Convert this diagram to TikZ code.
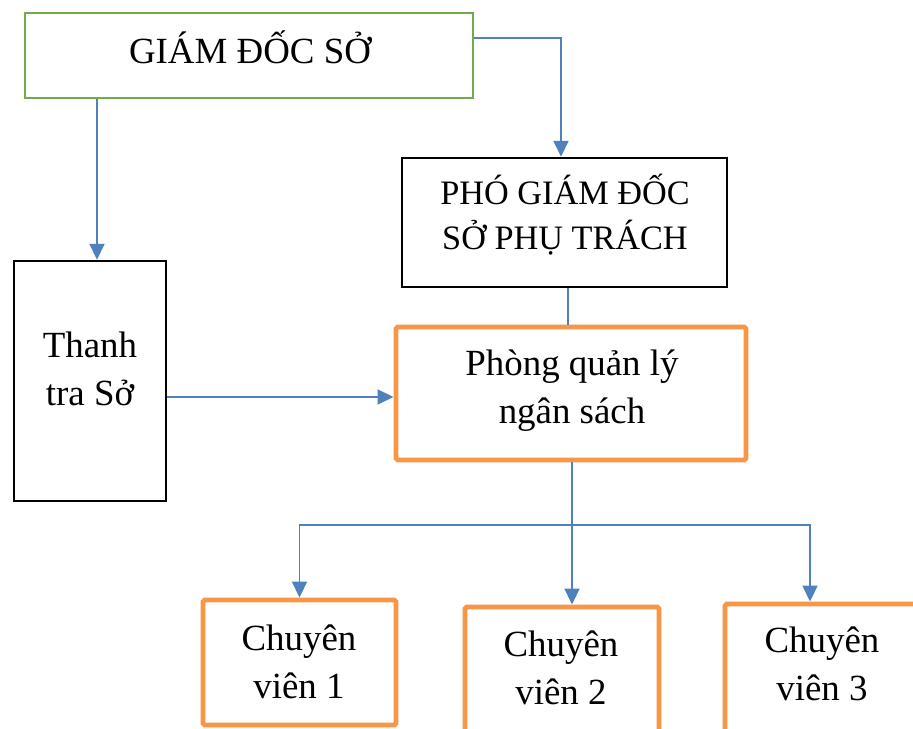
\documentclass[tikz,border=0pt]{standalone}
\usepackage{fontspec}
\setmainfont{Liberation Serif}
\usetikzlibrary{arrows.meta}
\usetikzlibrary{calc}
\usetikzlibrary{positioning}
\definecolor{linkblue}{RGB}{79,129,189}
\definecolor{boxgreen}{RGB}{112,173,71}
\definecolor{boxorange}{RGB}{247,150,70}

\begin{document}
\begin{tikzpicture}
	[
	x=0.02cm, y=-0.02cm,
	> = {Triangle[length=0.32cm,width=0.3cm]},
	box/.style = {draw, rectangle, inner sep=0pt},
	greenbox/.style = {box, draw=boxgreen, line width=1.6pt},
	blackbox/.style = {box, draw=black, line width=1.4pt},
	orangebox/.style = {box, draw=boxorange, line width=2.8pt, rounded corners=1pt},
	label/.style = {align=center, font=\fontsize{21}{27.3}\selectfont},
	link/.style = {draw=linkblue, line width=1.1pt},
	arrow/.style = {link, ->, linkblue}
	]

	\useasboundingbox (0,0) rectangle (913,729);

	% boxes
	\node[greenbox, minimum width=448*0.02cm, minimum height=85*0.02cm] (gd) at (249,55.5) {};
	\node[blackbox, minimum width=325*0.02cm, minimum height=129*0.02cm] (pgd) at (564.5,222.5) {};
	\node[blackbox, minimum width=152*0.02cm, minimum height=240*0.02cm] (ttr) at (90,381) {};
	\node[orangebox, minimum width=350*0.02cm, minimum height=133*0.02cm] (pqns) at (571,393.5) {};
	\node[orangebox, minimum width=193*0.02cm, minimum height=125*0.02cm] (cv1) at (299.5,662.5) {};
	\node[orangebox, minimum width=194*0.02cm, minimum height=128*0.02cm] (cv2) at (562,671) {};
	\node[orangebox, minimum width=194*0.02cm, minimum height=128*0.02cm] (cv3) at (822,668) {};

	% texts
	\node[label] (gd-t) at (250,47) {GIÁM ĐỐC SỞ};
	\node[label, font=\fontsize{19.5}{25.5}\selectfont] (pgd-t) at (565,215) {PHÓ GIÁM ĐỐC\\SỞ PHỤ TRÁCH};
	\node[label] (ttr-t) at (90,369) {Thanh\\tra Sở};
	\node[label] (pqns-t) at (572,391) {Phòng quản lý\\ngân sách};
	\node[label] (cv1-t) at (299,662) {Chuyên\\viên 1};
	\node[label] (cv2-t) at (561,668) {Chuyên\\viên 2};
	\node[label] (cv3-t) at (822,664) {Chuyên\\viên 3};

	% connectors
	\draw[arrow] ([yshift=0.35cm]gd.east) -| ([xshift=-0.07cm]pgd.north);
	\draw[arrow] ([xshift=0.14cm]ttr.north |- gd.south) -- ([xshift=0.14cm]ttr.north);
	\draw[link] ([xshift=0.07cm]pgd.south) -- ([xshift=0.07cm]pgd.south |- pqns.north);
	\draw[arrow] ([yshift=-0.32cm]ttr.east) -- ([yshift=-0.32cm]ttr.east -| pqns.west);

	\coordinate (split) at (572,525);
	\draw[link] ([xshift=0.02cm]pqns.south) -- (split);
	\draw[arrow] (split) -| (cv1.north);
	\draw[arrow] (split) -- (split |- cv2.north);
	\draw[arrow] (split) -| ([xshift=-0.24cm]cv3.north);

\end{tikzpicture}
\end{document}
